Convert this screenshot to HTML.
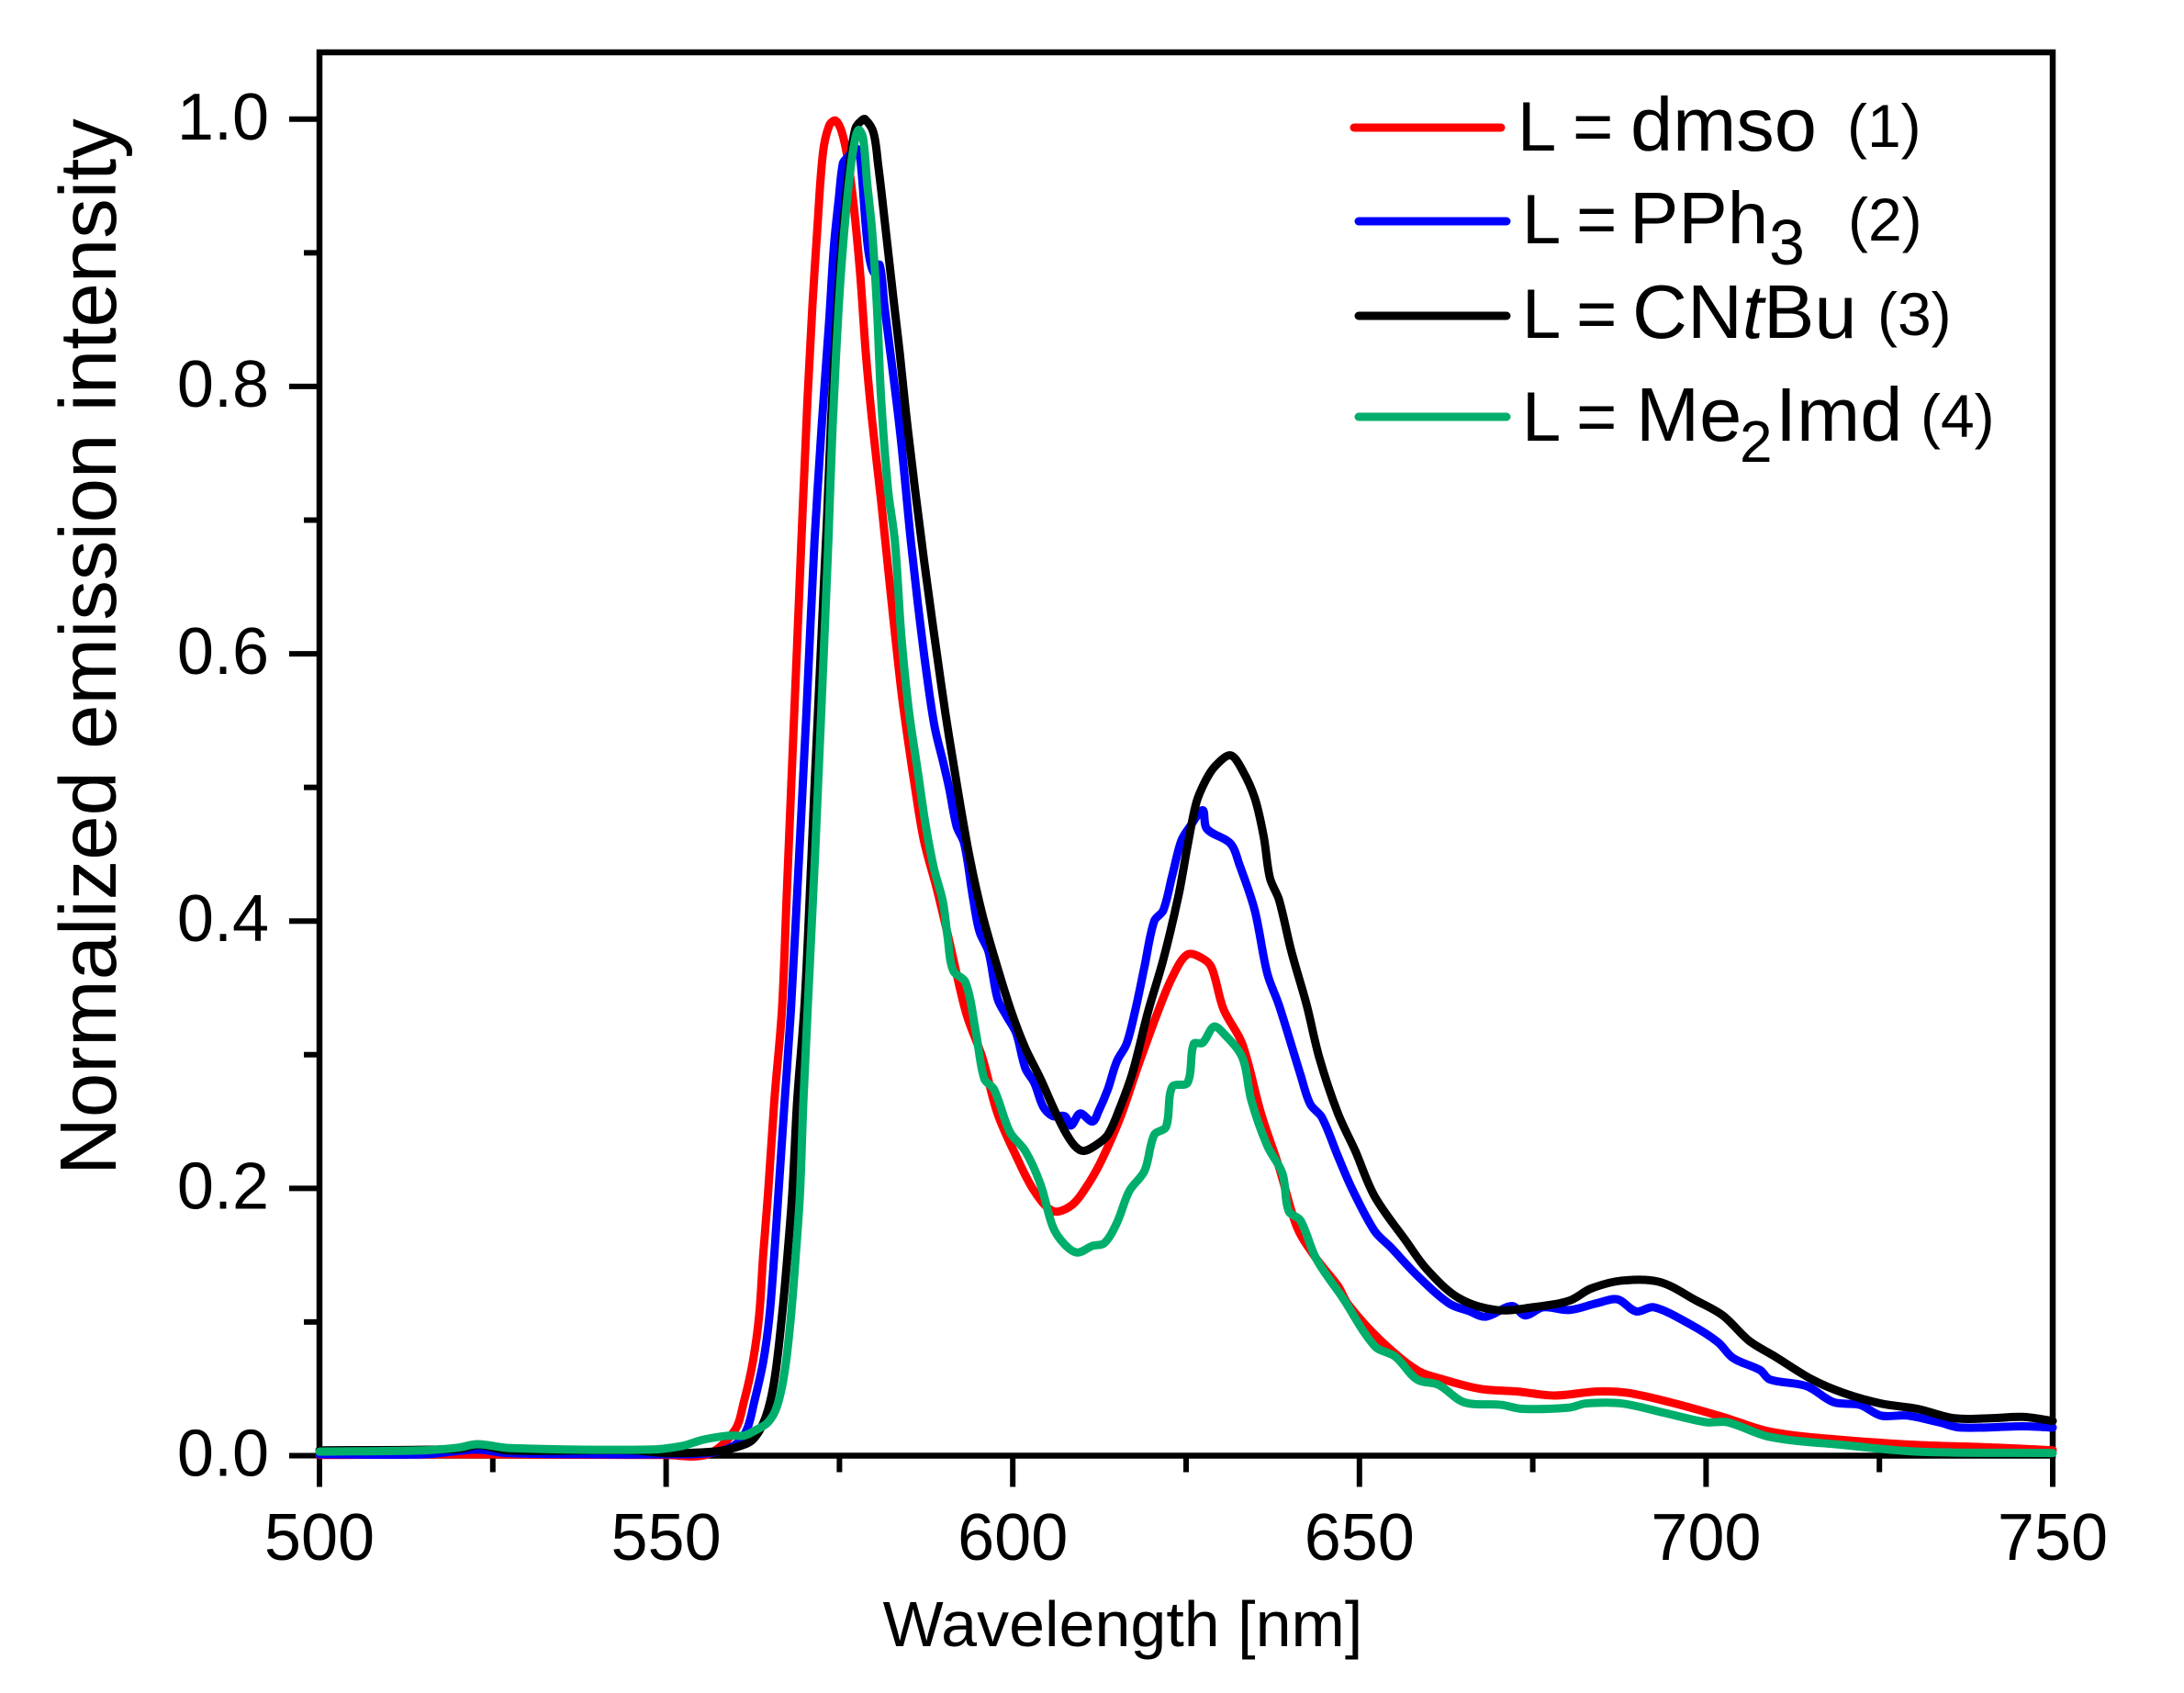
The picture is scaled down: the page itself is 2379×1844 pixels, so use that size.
<!DOCTYPE html>
<html lang="en">
<head>
<meta charset="utf-8">
<title>Normalized emission spectra</title>
<style>
html,body{margin:0;padding:0;background:#fff;width:2379px;height:1844px;overflow:hidden}
svg{display:block}
text{font-family:"Liberation Sans",Arial,sans-serif;fill:#000}
</style>
</head>
<body>
<svg id="chart" xmlns="http://www.w3.org/2000/svg" width="2379" height="1844" viewBox="0 0 2379 1844">
  <rect x="0" y="0" width="2379" height="1844" fill="#fff"/>
  <g id="axes"></g>
  <g id="series"></g>
  <text transform="translate(126,1280) rotate(-90)" font-size="87">Normalized emission intensity</text>
  <text x="1223" y="1793" text-anchor="middle" font-size="70">Wavelength [nm]</text>
  <g>
    <g>
      <line x1="1475" x2="1635" y1="139" y2="139" stroke="#ff0000" stroke-width="9" stroke-linecap="round"/>
      <text y="164" font-size="76"><tspan x="1653">L</tspan><tspan x="1713">=</tspan><tspan x="1776" font-size="83">dmso</tspan></text>
      <text x="2012" y="160" font-size="66">(1)</text>
    </g>
    <g>
      <line x1="1480" x2="1641" y1="241" y2="241" stroke="#0000ff" stroke-width="9" stroke-linecap="round"/>
      <text y="265" font-size="76"><tspan x="1658">L</tspan><tspan x="1717">=</tspan><tspan x="1775" font-size="80">PPh</tspan></text>
      <text x="1927" y="288" font-size="70">3</text>
      <text x="2013" y="262" font-size="66">(2)</text>
    </g>
    <g>
      <line x1="1480" x2="1641" y1="344" y2="344" stroke="#000000" stroke-width="9" stroke-linecap="round"/>
      <text y="368" font-size="76"><tspan x="1658">L</tspan><tspan x="1717">=</tspan><tspan x="1778" font-size="83">CN</tspan><tspan font-size="83" font-style="italic">t</tspan><tspan font-size="83">Bu</tspan></text>
      <text x="2045" y="365" font-size="66">(3)</text>
    </g>
    <g>
      <line x1="1480" x2="1641" y1="454" y2="454" stroke="#00ae6b" stroke-width="9" stroke-linecap="round"/>
      <text y="480" font-size="76"><tspan x="1658">L</tspan><tspan x="1717">=</tspan><tspan x="1782" font-size="83">Me</tspan></text>
      <text x="1895" y="503" font-size="64">2</text>
      <text x="1934" y="480" font-size="83">Imd</text>
      <text x="2092" y="476" font-size="66">(4)</text>
    </g>
  </g>
</svg>
<script>
// ---- data ----
const xMajorTicks = [500, 550, 600, 650, 700, 750];
const xMinorTicks = [525, 575, 625, 675, 725];
const yMajorTicks = [0, 0.2, 0.4, 0.6, 0.8, 1.0];
const yMinorTicks = [0.1, 0.3, 0.5, 0.7, 0.9];
const xTickLabels = ['500', '550', '600', '650', '700', '750'];
const yTickLabels = ['0.0', '0.2', '0.4', '0.6', '0.8', '1.0'];

const dmsoWavelengths = [500,520,550,556,559.9,561.2,562.5,563.4,564,564.7,565.6,566.7,567.4,567.8,568.2,568.9,569.5,570.4,571.1,571.8,572.6,573.5,574.4,575.3,576.2,577.1,578,578.8,579.7,581,581.7,582.8,584.1,585.9,587.2,589,590.8,592.1,593.4,595.6,597.8,600.5,603.1,605.8,608.4,610.6,612.8,615.5,618.1,620.7,623,625.2,627.4,628.7,630.4,633.1,635.8,638.4,641,643.7,646.9,648.4,652.9,658.3,662.1,667.4,672.8,678.1,684.2,688.7,694.8,702.4,709.2,719.1,730.5,741.9,750];
const dmsoValues = [0.0005,0.001,0.0005,0.001,0.019,0.04,0.07,0.104,0.15,0.196,0.265,0.333,0.42,0.47,0.52,0.607,0.684,0.792,0.86,0.917,0.974,0.995,0.999,0.991,0.97,0.933,0.883,0.825,0.775,0.715,0.68,0.625,0.565,0.5,0.46,0.425,0.386,0.356,0.329,0.298,0.256,0.224,0.198,0.183,0.187,0.201,0.221,0.253,0.292,0.329,0.358,0.375,0.372,0.365,0.334,0.308,0.256,0.216,0.171,0.148,0.127,0.113,0.087,0.064,0.057,0.05,0.048,0.045,0.048,0.047,0.04,0.029,0.018,0.012,0.008,0.006,0.004];

const pph3Wavelengths = [500,515,520,523,527,540,550,556.3,559.9,561.6,562.7,564,564.9,565.6,566.2,567.1,568,568.9,570.2,570.8,571.4,572.4,573.5,574.2,574.9,575.5,576.1,577.3,577.9,578.8,579.3,580,580.8,581.5,583.7,585.3,586.3,587.4,588.7,590,590.8,591.9,593,594.3,595.2,596.5,597.8,599.1,600.5,601.8,603.1,604.4,605.8,607.5,608.4,609.7,611.5,612.4,613.7,615,616.4,617.7,619,620.4,621.7,623,624.3,625.6,627.4,628,631.4,632.7,634.9,636.7,638.4,641.5,642.9,644.6,646.9,649,652.2,654.5,658.3,662.9,665.9,668.2,672,673.9,676.5,680.3,684.2,687.2,689.9,692.5,697.8,701.7,703.9,707.8,709.2,714.5,718.4,722.2,725.2,729,733.6,736.7,745.7,750];
const pph3Values = [0.001,0.001,0.0035,0.0045,0.002,0.001,0.001,0.002,0.008,0.019,0.04,0.07,0.104,0.15,0.196,0.265,0.333,0.42,0.553,0.62,0.684,0.768,0.848,0.905,0.94,0.967,0.971,0.978,0.975,0.92,0.897,0.885,0.891,0.86,0.768,0.684,0.638,0.592,0.546,0.518,0.5,0.471,0.458,0.416,0.392,0.377,0.342,0.329,0.316,0.29,0.279,0.261,0.254,0.254,0.247,0.256,0.25,0.258,0.274,0.295,0.308,0.334,0.366,0.4,0.408,0.434,0.46,0.471,0.483,0.469,0.458,0.442,0.408,0.361,0.337,0.285,0.263,0.253,0.224,0.199,0.168,0.156,0.135,0.114,0.108,0.104,0.112,0.105,0.111,0.109,0.114,0.117,0.108,0.111,0.098,0.085,0.073,0.064,0.057,0.052,0.04,0.038,0.03,0.03,0.025,0.021,0.022,0.021];

const cntbuWavelengths = [500,520,523,527,545,550,556.8,560.3,562.5,564.3,565.6,566.7,567.5,568.2,568.9,570,570.9,571.4,572.2,572.7,573.2,573.8,574.7,575.5,576.4,577.3,578.2,578.7,579.9,580.6,581.5,582.8,583.7,584.6,585.9,587.2,588.5,590.3,592,593.8,595.6,597.8,599.8,601.8,604,605.8,607.5,608.9,610.2,611.9,613.7,615.5,617.3,619.5,621.7,623.9,625.2,626.5,627.8,629.2,631.4,633.1,634.9,636.2,637.1,638.4,640.2,642.4,644.2,646.9,649.4,652.2,656.8,659.8,664.3,669.7,675,680.3,683.4,687.9,693.3,698.6,702.4,706.2,710,715.3,719.8,725.2,730.5,735.8,741.1,745.7,750];
const cntbuValues = [0.004,0.005,0.008,0.004,0.004,0.002,0.003,0.0066,0.012,0.028,0.056,0.104,0.15,0.196,0.265,0.34,0.44,0.5,0.59,0.645,0.7,0.775,0.86,0.917,0.963,0.993,0.999,1.0,0.99,0.965,0.925,0.865,0.825,0.78,0.723,0.67,0.62,0.555,0.5,0.447,0.405,0.365,0.332,0.305,0.282,0.261,0.243,0.232,0.228,0.232,0.24,0.261,0.287,0.332,0.371,0.419,0.456,0.489,0.505,0.516,0.524,0.513,0.492,0.463,0.432,0.416,0.377,0.337,0.298,0.256,0.228,0.194,0.16,0.139,0.118,0.109,0.111,0.116,0.125,0.131,0.13,0.116,0.105,0.086,0.074,0.057,0.047,0.039,0.035,0.028,0.028,0.029,0.026];

const me2imdWavelengths = [500,515,520,522.8,527.6,547.5,552.3,555.4,559,561.2,562.9,564.7,566,567.1,568,568.7,569.3,569.8,570.4,571.4,571.9,572.4,572.9,573.4,574,574.9,575.7,576.6,577.3,577.8,578.4,579,579.7,580.4,581,582,583,583.9,585,586.3,587.4,588.6,589.9,590.6,591.4,593.2,594.7,595.9,597.3,599.6,601.8,604,605.8,607.5,609.3,611.5,613.2,615,616.8,619,620.4,622.1,623,625.2,626.1,627.4,629,630.4,633.1,634.4,636.7,638.9,639.8,641.5,643.8,647.6,652.2,655.2,658.3,661.4,665.1,670.5,673.5,680.3,682.6,687.9,694,700,703.1,709.2,719.8,730.5,750];
const me2imdValues = [0.003,0.004,0.006,0.0086,0.0056,0.0045,0.0073,0.012,0.015,0.015,0.019,0.025,0.037,0.063,0.104,0.15,0.196,0.265,0.333,0.44,0.5,0.56,0.62,0.684,0.768,0.86,0.917,0.963,0.986,0.992,0.986,0.952,0.917,0.86,0.792,0.723,0.684,0.615,0.558,0.512,0.473,0.44,0.415,0.388,0.363,0.354,0.316,0.282,0.274,0.242,0.228,0.203,0.171,0.158,0.152,0.157,0.159,0.174,0.198,0.213,0.24,0.246,0.276,0.279,0.308,0.309,0.321,0.316,0.298,0.266,0.232,0.211,0.183,0.176,0.147,0.118,0.082,0.074,0.057,0.053,0.04,0.038,0.035,0.036,0.039,0.039,0.032,0.025,0.025,0.014,0.008,0.003,0.002];

// ---- axis functions ----
const plotLeft = 348, plotRight = 2236, plotTop = 57, plotBottom = 1585.5;
const xMin = 500, xMax = 750, yMin = 0, yMax = 1.05;
function xScale(w) { return plotLeft + (w - xMin) / (xMax - xMin) * (plotRight - plotLeft); }
function yScale(v) { return plotBottom - (v - yMin) / (yMax - yMin) * (plotBottom - plotTop); }

const NS = 'http://www.w3.org/2000/svg';
const axes = document.getElementById('axes');
const seriesGroup = document.getElementById('series');
function make(parent, tag, attrs, txt) {
  const el = document.createElementNS(NS, tag);
  for (const k in attrs) el.setAttribute(k, attrs[k]);
  if (txt !== undefined) el.textContent = txt;
  parent.appendChild(el);
  return el;
}

// frame
const frame = make(axes, 'rect', {x: plotLeft, y: plotTop, width: plotRight - plotLeft, height: plotBottom - plotTop, fill: 'none', stroke: '#000', 'stroke-width': 6.5});



// x ticks
xMajorTicks.forEach(function (w, i) {
  const t = make(axes, 'line', {x1: xScale(w), x2: xScale(w), y1: plotBottom, y2: plotBottom + 34, stroke: '#000', 'stroke-width': 6});
  
  
  const l = make(axes, 'text', {x: xScale(w), y: 1699, 'text-anchor': 'middle', 'font-size': 72}, xTickLabels[i]);
  
  
});
xMinorTicks.forEach(function (w) {
  const t = make(axes, 'line', {x1: xScale(w), x2: xScale(w), y1: plotBottom, y2: plotBottom + 18, stroke: '#000', 'stroke-width': 6});
  
  
});

// y ticks
yMajorTicks.forEach(function (v, i) {
  const t = make(axes, 'line', {x1: plotLeft - 33, x2: plotLeft, y1: yScale(v), y2: yScale(v), stroke: '#000', 'stroke-width': 6});
  
  
  const l = make(axes, 'text', {x: 293, y: yScale(v) + 22, 'text-anchor': 'end', 'font-size': 72}, yTickLabels[i]);
  
  
});
yMinorTicks.forEach(function (v) {
  const t = make(axes, 'line', {x1: plotLeft - 17, x2: plotLeft, y1: yScale(v), y2: yScale(v), stroke: '#000', 'stroke-width': 6});
  
  
});

function linePath(ws, vs) {
  const p = ws.map(function (w, i) { return [xScale(w), yScale(vs[i])]; });
  const n = p.length;
  function dist(a, b) { return Math.hypot(a[0] - b[0], a[1] - b[1]) || 0.001; }
  function tangent(i) {
    const a = p[Math.max(i - 1, 0)], b = p[Math.min(i + 1, n - 1)];
    const len = dist(a, p[i]) + dist(b, p[i]);
    return [(b[0] - a[0]) / len, (b[1] - a[1]) / len];
  }
  let d = 'M' + p[0][0].toFixed(1) + ' ' + p[0][1].toFixed(1);
  for (let i = 0; i < n - 1; i++) {
    const L = dist(p[i], p[i + 1]) / 3, t1 = tangent(i), t2 = tangent(i + 1);
    d += 'C' + (p[i][0] + t1[0] * L).toFixed(1) + ' ' + (p[i][1] + t1[1] * L).toFixed(1) + ' ' +
         (p[i + 1][0] - t2[0] * L).toFixed(1) + ' ' + (p[i + 1][1] - t2[1] * L).toFixed(1) + ' ' +
         p[i + 1][0].toFixed(1) + ' ' + p[i + 1][1].toFixed(1);
  }
  return d;
}
function drawSeries(ws, vs, color) {
  return make(seriesGroup, 'path', {d: linePath(ws, vs), fill: 'none', stroke: color, 'stroke-width': 9, 'stroke-linejoin': 'round', 'stroke-linecap': 'round'});
}
const lineDmso = drawSeries(dmsoWavelengths, dmsoValues, '#ff0000');


const linePph3 = drawSeries(pph3Wavelengths, pph3Values, '#0000ff');


const lineCntbu = drawSeries(cntbuWavelengths, cntbuValues, '#000000');


const lineMe2imd = drawSeries(me2imdWavelengths, me2imdValues, '#00ae6b');


</script>
</body>
</html>
